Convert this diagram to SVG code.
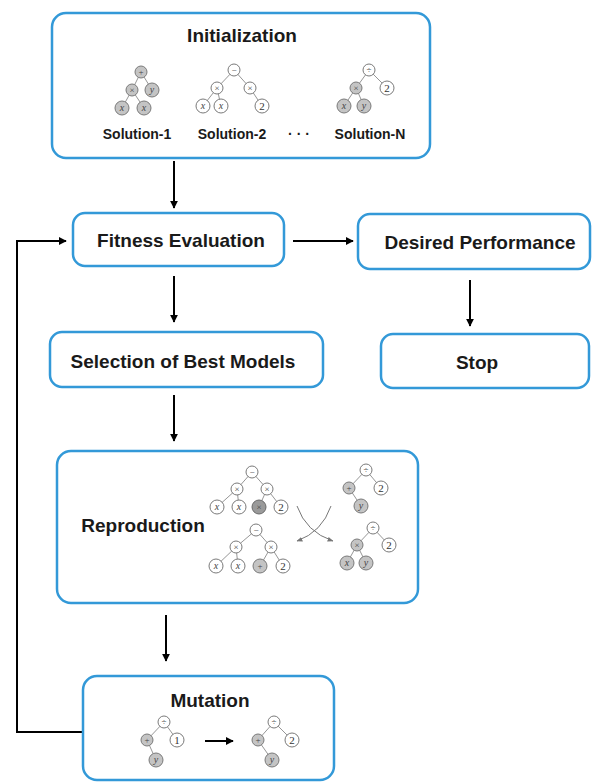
<svg xmlns="http://www.w3.org/2000/svg" width="593" height="782" viewBox="0 0 593 782">
<defs>
<style>
.box{fill:#fff;stroke:#3399d8;stroke-width:2.5}
.t{font-family:"Liberation Sans",Arial,sans-serif;font-weight:bold;font-size:19px;fill:#1a1a1a;text-anchor:middle}
.sl{font-family:"Liberation Sans",Arial,sans-serif;font-weight:bold;font-size:14px;fill:#1a1a1a;text-anchor:middle}
.c{stroke:#000;stroke-width:2;fill:none}
.e{stroke:#8a8a8a;stroke-width:0.9}
.w{fill:#fff;stroke:#7a7a7a;stroke-width:1}
.g{fill:#c4c4c4;stroke:#7a7a7a;stroke-width:1}
.d{fill:#9a9a9a;stroke:#6a6a6a;stroke-width:1}
.s{font-family:"Liberation Serif",serif;font-size:9px;fill:#444;text-anchor:middle}
.si{font-family:"Liberation Serif",serif;font-style:italic;font-size:10px;fill:#444;text-anchor:middle}
.n2{font-family:"Liberation Serif",serif;font-size:11px;fill:#333;text-anchor:middle}
</style>
<marker id="ah" viewBox="0 0 10 10" refX="9" refY="5" markerWidth="4" markerHeight="4" orient="auto">
<path d="M0,0 L10,5 L0,10 z" fill="#000"/>
</marker>
<marker id="ahg" viewBox="0 0 10 10" refX="9" refY="5" markerWidth="6" markerHeight="6" orient="auto">
<path d="M0,1 L10,5 L0,9 z" fill="#777"/>
</marker>
</defs>
<rect width="593" height="782" fill="#fff"/>

<g id="connectors">
<line class="c" x1="174" y1="161" x2="174" y2="208" marker-end="url(#ah)"/>
<line class="c" x1="293" y1="241" x2="353" y2="241" marker-end="url(#ah)"/>
<line class="c" x1="470" y1="280" x2="470" y2="326" marker-end="url(#ah)"/>
<line class="c" x1="174" y1="276" x2="174" y2="322" marker-end="url(#ah)"/>
<line class="c" x1="174" y1="395" x2="174" y2="441" marker-end="url(#ah)"/>
<line class="c" x1="166" y1="615" x2="166" y2="661" marker-end="url(#ah)"/>
<polyline class="c" points="83,732 17,732 17,241 66,241" marker-end="url(#ah)"/>
</g>

<g id="initialization">
<rect class="box" x="52" y="13" width="378" height="145" rx="14"/>
<text class="t" x="242" y="42">Initialization</text>
<g id="sol1">
<line class="e" x1="141" y1="72" x2="132" y2="90"/><line class="e" x1="141" y1="72" x2="152" y2="90"/>
<line class="e" x1="132" y1="90" x2="122" y2="108"/><line class="e" x1="132" y1="90" x2="144" y2="108"/>
<circle class="g" cx="141" cy="72" r="6"/><text class="s" x="141" y="75">+</text>
<circle class="g" cx="132" cy="90" r="6"/><text class="s" x="132" y="93">×</text>
<circle class="g" cx="152" cy="90" r="7"/><text class="si" x="152" y="93">y</text>
<circle class="g" cx="122" cy="108" r="7"/><text class="si" x="122" y="111">x</text>
<circle class="g" cx="144" cy="108" r="7"/><text class="si" x="144" y="111">x</text>
</g>
<g id="sol2">
<line class="e" x1="234" y1="70" x2="217" y2="88"/><line class="e" x1="234" y1="70" x2="250" y2="88"/>
<line class="e" x1="217" y1="88" x2="203" y2="106"/><line class="e" x1="217" y1="88" x2="221" y2="106"/>
<line class="e" x1="250" y1="88" x2="262" y2="106"/>
<circle class="w" cx="234" cy="70" r="6"/><text class="s" x="234" y="73">−</text>
<circle class="w" cx="217" cy="88" r="6"/><text class="s" x="217" y="91">×</text>
<circle class="w" cx="250" cy="88" r="6"/><text class="s" x="250" y="91">×</text>
<circle class="w" cx="203" cy="106" r="7"/><text class="si" x="203" y="109">x</text>
<circle class="w" cx="221" cy="106" r="7"/><text class="si" x="221" y="109">x</text>
<circle class="w" cx="262" cy="106" r="7"/><text class="n2" x="262" y="110">2</text>
</g>
<g id="solN">
<line class="e" x1="369" y1="70" x2="356" y2="88"/><line class="e" x1="369" y1="70" x2="387" y2="88"/>
<line class="e" x1="356" y1="88" x2="344" y2="106"/><line class="e" x1="356" y1="88" x2="364" y2="106"/>
<circle class="w" cx="369" cy="70" r="6"/><text class="s" x="369" y="73">÷</text>
<circle class="g" cx="356" cy="88" r="6"/><text class="s" x="356" y="91">×</text>
<circle class="w" cx="387" cy="88" r="7"/><text class="n2" x="387" y="92">2</text>
<circle class="g" cx="344" cy="106" r="7"/><text class="si" x="344" y="109">x</text>
<circle class="g" cx="364" cy="106" r="7"/><text class="si" x="364" y="109">y</text>
</g>
<text class="sl" x="137" y="139">Solution-1</text>
<text class="sl" x="232" y="139">Solution-2</text>
<text class="sl" x="299" y="139">· · ·</text>
<text class="sl" x="370" y="139">Solution-N</text>
</g>

<g id="fitness">
<rect class="box" x="73" y="213" width="211" height="53" rx="12"/>
<text class="t" x="181" y="247">Fitness Evaluation</text>
</g>

<g id="desired">
<rect class="box" x="358" y="214" width="232" height="55" rx="12"/>
<text class="t" x="480" y="249">Desired Performance</text>
</g>

<g id="selection">
<rect class="box" x="50" y="332" width="273" height="55" rx="12"/>
<text class="t" x="183" y="368">Selection of Best Models</text>
</g>

<g id="stop">
<rect class="box" x="381" y="334" width="208" height="54" rx="12"/>
<text class="t" x="477" y="369">Stop</text>
</g>

<g id="reproduction">
<rect class="box" x="57" y="451" width="361" height="152" rx="14"/>
<text class="t" x="143" y="532">Reproduction</text>
<g id="rtl">
<line class="e" x1="252" y1="472" x2="237" y2="489"/><line class="e" x1="252" y1="472" x2="267" y2="489"/>
<line class="e" x1="237" y1="489" x2="217" y2="507"/><line class="e" x1="237" y1="489" x2="239" y2="507"/>
<line class="e" x1="267" y1="489" x2="259" y2="507"/><line class="e" x1="267" y1="489" x2="281" y2="507"/>
<circle class="w" cx="252" cy="472" r="6"/><text class="s" x="252" y="475">−</text>
<circle class="w" cx="237" cy="489" r="6"/><text class="s" x="237" y="492">×</text>
<circle class="w" cx="267" cy="489" r="6"/><text class="s" x="267" y="492">×</text>
<circle class="w" cx="217" cy="507" r="7"/><text class="si" x="217" y="510">x</text>
<circle class="w" cx="239" cy="507" r="7"/><text class="si" x="239" y="510">x</text>
<circle class="d" cx="259" cy="507" r="7"/><text class="s" x="259" y="510">×</text>
<circle class="w" cx="281" cy="507" r="7"/><text class="n2" x="281" y="511">2</text>
</g>
<g id="rbl">
<line class="e" x1="256" y1="530" x2="236" y2="547"/><line class="e" x1="256" y1="530" x2="271" y2="547"/>
<line class="e" x1="236" y1="547" x2="216" y2="566"/><line class="e" x1="236" y1="547" x2="238" y2="566"/>
<line class="e" x1="271" y1="547" x2="260" y2="566"/><line class="e" x1="271" y1="547" x2="283" y2="566"/>
<circle class="w" cx="256" cy="530" r="6"/><text class="s" x="256" y="533">−</text>
<circle class="w" cx="236" cy="547" r="6"/><text class="s" x="236" y="550">×</text>
<circle class="w" cx="271" cy="547" r="6"/><text class="s" x="271" y="550">×</text>
<circle class="w" cx="216" cy="566" r="7"/><text class="si" x="216" y="569">x</text>
<circle class="w" cx="238" cy="566" r="7"/><text class="si" x="238" y="569">x</text>
<circle class="g" cx="260" cy="566" r="7"/><text class="s" x="260" y="569">+</text>
<circle class="w" cx="283" cy="566" r="7"/><text class="n2" x="283" y="570">2</text>
</g>
<g id="rtr">
<line class="e" x1="366" y1="470" x2="349" y2="488"/><line class="e" x1="366" y1="470" x2="381" y2="488"/>
<line class="e" x1="349" y1="488" x2="361" y2="506"/>
<circle class="w" cx="366" cy="470" r="6"/><text class="s" x="366" y="473">÷</text>
<circle class="g" cx="349" cy="488" r="6"/><text class="s" x="349" y="491">+</text>
<circle class="w" cx="381" cy="488" r="7"/><text class="n2" x="381" y="492">2</text>
<circle class="g" cx="361" cy="506" r="7"/><text class="si" x="361" y="509">y</text>
</g>
<g id="rbr">
<line class="e" x1="373" y1="528" x2="357" y2="545"/><line class="e" x1="373" y1="528" x2="389" y2="545"/>
<line class="e" x1="357" y1="545" x2="347" y2="563"/><line class="e" x1="357" y1="545" x2="366" y2="563"/>
<circle class="w" cx="373" cy="528" r="6"/><text class="s" x="373" y="531">÷</text>
<circle class="g" cx="357" cy="545" r="6"/><text class="s" x="357" y="548">×</text>
<circle class="w" cx="389" cy="545" r="7"/><text class="n2" x="389" y="549">2</text>
<circle class="g" cx="347" cy="563" r="7"/><text class="si" x="347" y="566">x</text>
<circle class="g" cx="366" cy="563" r="7"/><text class="si" x="366" y="566">y</text>
</g>
<path d="M297,506 Q306,532 333,541" fill="none" stroke="#777" stroke-width="1" marker-end="url(#ahg)"/>
<path d="M331,506 Q322,532 297,541" fill="none" stroke="#777" stroke-width="1" marker-end="url(#ahg)"/>
</g>

<g id="mutation">
<rect class="box" x="83" y="676" width="251" height="104" rx="14"/>
<text class="t" x="210" y="707">Mutation</text>
<g id="ml">
<line class="e" x1="164" y1="722" x2="147" y2="740"/><line class="e" x1="164" y1="722" x2="177" y2="740"/>
<line class="e" x1="147" y1="740" x2="156" y2="760"/>
<circle class="w" cx="164" cy="722" r="6"/><text class="s" x="164" y="725">÷</text>
<circle class="g" cx="147" cy="740" r="6"/><text class="s" x="147" y="743">+</text>
<circle class="w" cx="177" cy="740" r="7"/><text class="n2" x="177" y="744">1</text>
<circle class="g" cx="156" cy="760" r="7"/><text class="si" x="156" y="763">y</text>
</g>
<line class="c" x1="205" y1="741" x2="233" y2="741" marker-end="url(#ah)"/>
<g id="mr">
<line class="e" x1="274" y1="722" x2="258" y2="740"/><line class="e" x1="274" y1="722" x2="292" y2="740"/>
<line class="e" x1="258" y1="740" x2="272" y2="760"/>
<circle class="w" cx="274" cy="722" r="6"/><text class="s" x="274" y="725">÷</text>
<circle class="g" cx="258" cy="740" r="6"/><text class="s" x="258" y="743">+</text>
<circle class="w" cx="292" cy="740" r="7"/><text class="n2" x="292" y="744">2</text>
<circle class="g" cx="272" cy="760" r="7"/><text class="si" x="272" y="763">y</text>
</g>
</g>
</svg>
